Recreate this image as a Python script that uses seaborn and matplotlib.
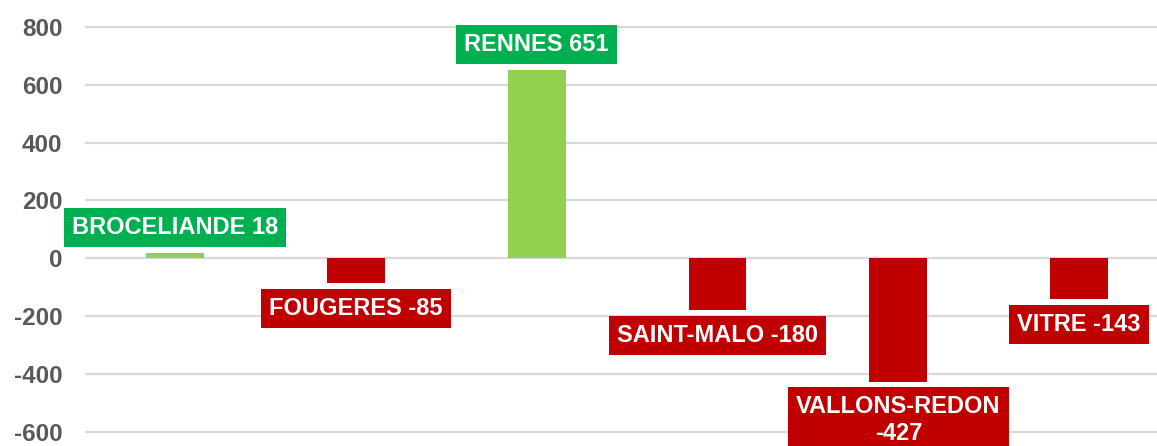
import pandas as pd
import seaborn as sns
import matplotlib.pyplot as plt

# values
territoires = ["BROCELIANDE", "FOUGERES", "RENNES", "SAINT-MALO", "VALLONS-REDON", "VITRE"]
soldes = [18, -85, 651, -180, -427, -143]
yticks = [-600, -400, -200, 0, 200, 400, 600, 800]

df = pd.DataFrame({"territoire": territoires, "solde": soldes})

sns.set_style("white")
plt.rcParams['font.family'] = ['Liberation Sans', 'DejaVu Sans']

bar_green, lab_green, red = "#92D050", "#00B050", "#C00000"
bar_cols = [bar_green if v >= 0 else red for v in soldes]

fig = plt.figure(figsize=(11.57, 4.46), dpi=100)
# chart is cropped on the right side in the reference
ax = fig.add_axes([84.6 / 1157, 0, (1157 - 84.6) / 1157, 1])

sns.barplot(data=df, x="territoire", y="solde", hue="territoire", order=territoires,
            palette=bar_cols, width=0.32, legend=False, ax=ax, saturation=1,
            linewidth=0)

ax.set_ylim(-650, 893)
ax.set_xlim(-0.5, 5.43)
ax.set_yticks(yticks)
ax.set_yticklabels([str(t) for t in yticks], fontsize=17.5, fontweight="bold", color="#595959")
ax.set_xticks([])
ax.set_xlabel("")
ax.set_ylabel("")
ax.yaxis.grid(True, color="#d9d9d9", linewidth=1.6)
ax.set_axisbelow(True)
ax.tick_params(axis="y", length=0, pad=16)
sns.despine(ax=ax, left=True, bottom=True)

for i, (name, v) in enumerate(zip(territoires, soldes)):
    label = f"{name} {v}"
    if name == "VALLONS-REDON":
        label = f"{name}\n{v}"
    box_col = lab_green if v >= 0 else red
    ax.annotate(label, (i, v), xytext=(0, 10 if v >= 0 else -10), textcoords="offset points",
                ha="center", va="bottom" if v >= 0 else "top", fontsize=17,
                fontweight="bold", color="white", linespacing=1.2,
                bbox=dict(boxstyle="square,pad=0.34", fc=box_col, ec="none"))

fig.savefig("out.png", dpi=100, facecolor="white")
